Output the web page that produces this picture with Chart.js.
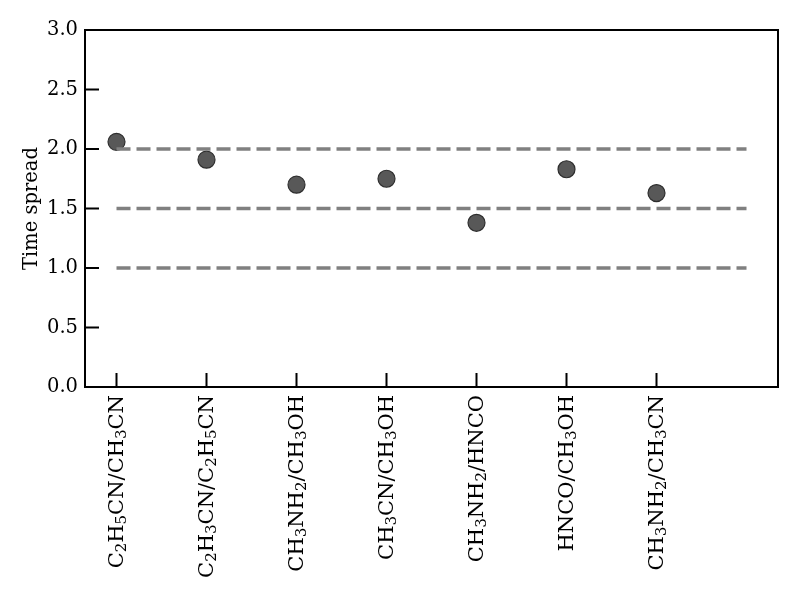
<!DOCTYPE html>
<html>
<head>
<meta charset="utf-8">
<script src="https://cdn.jsdelivr.net/npm/chart.js@4/dist/chart.umd.min.js"></script>
<style>
  html, body { margin: 0; padding: 0; background: #fff; }
  #wrap { width: 800px; height: 600px; }
</style>
</head>
<body>
<div id="wrap"><canvas id="myChart" width="800" height="600"></canvas></div>
<script>
// ratio names on the x axis (unicode subscript digits mark the subscripts)
const ratios = [
  "C\u2082H\u2085CN/CH\u2083CN",
  "C\u2082H\u2083CN/C\u2082H\u2085CN",
  "CH\u2083NH\u2082/CH\u2083OH",
  "CH\u2083CN/CH\u2083OH",
  "CH\u2083NH\u2082/HNCO",
  "HNCO/CH\u2083OH",
  "CH\u2083NH\u2082/CH\u2083CN"
];
// time spread
const spread = [2.06, 1.91, 1.70, 1.75, 1.38, 1.83, 1.63];
// dashed reference levels, drawn from x = 0 to x = 7
const levels = [1.0, 1.5, 2.0];
const levelSpan = [0, 7];
const yTicks = [0.0, 0.5, 1.0, 1.5, 2.0, 2.5, 3.0];

const font = { family: "DejaVu Serif", size: 19.5 };

// points + one dataset per dashed line
const datasets = [];
levels.forEach(lv => {
  datasets.push({
    type: "line",
    data: levelSpan.map(x => ({ x: x, y: lv })),
    borderColor: "#808080",
    borderWidth: 3.5,
    borderDash: [14, 6],
    pointRadius: 0,
    fill: false
  });
});
datasets.push({
  type: "scatter",
  data: spread.map((v, i) => ({ x: i, y: v })),
  backgroundColor: "#585858",
  borderColor: "#2e2e2e",
  borderWidth: 1.2,
  pointRadius: 8.5
});

// split a label into normal / subscript pieces
function pieces(label) {
  const out = [];
  for (const ch of label) {
    const code = ch.codePointAt(0);
    const sub = code >= 0x2080 && code <= 0x2089;
    const c = sub ? String(code - 0x2080) : ch;
    if (out.length && out[out.length - 1].sub === sub) out[out.length - 1].t += c;
    else out.push({ t: c, sub: sub });
  }
  return out;
}

// frame, short inward ticks and rotated x labels with real subscripts
const frameTicks = {
  id: "frameTicks",
  afterDraw(chart) {
    const ctx = chart.ctx;
    const a = chart.chartArea;
    const xs = chart.scales.x, ys = chart.scales.y;
    ctx.save();
    ctx.strokeStyle = "#000";
    ctx.lineWidth = 2;
    ctx.beginPath();
    ratios.forEach((r, i) => {
      const px = xs.getPixelForValue(i);
      ctx.moveTo(px, a.bottom);
      ctx.lineTo(px, a.bottom - 14);
    });
    yTicks.forEach(v => {
      const py = ys.getPixelForValue(v);
      ctx.moveTo(a.left, py);
      ctx.lineTo(a.left + 14, py);
    });
    ctx.stroke();
    ctx.strokeRect(a.left, a.top, a.right - a.left, a.bottom - a.top);

    // labels
    const big = "21px 'DejaVu Serif'", small = "15px 'DejaVu Serif'";
    ctx.fillStyle = "#000";
    ctx.textBaseline = "alphabetic";
    ctx.textAlign = "left";
    ratios.forEach((r, i) => {
      const px = xs.getPixelForValue(i);
      const parts = pieces(r);
      let total = 0;
      parts.forEach(p => { ctx.font = p.sub ? small : big; p.w = ctx.measureText(p.t).width; total += p.w; });
      ctx.save();
      ctx.translate(px, a.bottom + 8);
      ctx.rotate(-Math.PI / 2);
      let x = -total;
      parts.forEach(p => {
        ctx.font = p.sub ? small : big;
        ctx.fillText(p.t, x, p.sub ? 9 : 6);
        x += p.w;
      });
      ctx.restore();
    });
    ctx.restore();
  }
};

const config = {
  type: "scatter",
  data: { datasets: datasets },
  options: {
    responsive: false,
    animation: false,
    layout: { padding: { top: 30, right: 22, left: 20, bottom: 0 } },
    plugins: {
      legend: { display: false },
      tooltip: { enabled: false }
    },
    scales: {
      x: {
        type: "linear",
        min: -0.35,
        max: 7.35,
        grid: { display: false, drawTicks: false, tickLength: 0 },
        border: { display: false },
        afterBuildTicks: s => { s.ticks = ratios.map((r, i) => ({ value: i })); },
        afterFit: s => { s.height = 213; },
        ticks: { display: false }
      },
      y: {
        min: 0,
        max: 3,
        grid: { display: false, drawTicks: false, tickLength: 0 },
        border: { display: false },
        afterBuildTicks: s => { s.ticks = yTicks.map(v => ({ value: v })); },
        afterFit: s => { s.width = 65; },
        title: { display: true, text: "Time spread", font: font, color: "#000", padding: 0 },
        ticks: {
          font: font,
          color: "#000",
          padding: 7,
          callback: v => v.toFixed(1)
        }
      }
    }
  },
  plugins: [frameTicks]
};

const myChart = new Chart(document.getElementById("myChart").getContext("2d"), config);
</script>
</body>
</html>
